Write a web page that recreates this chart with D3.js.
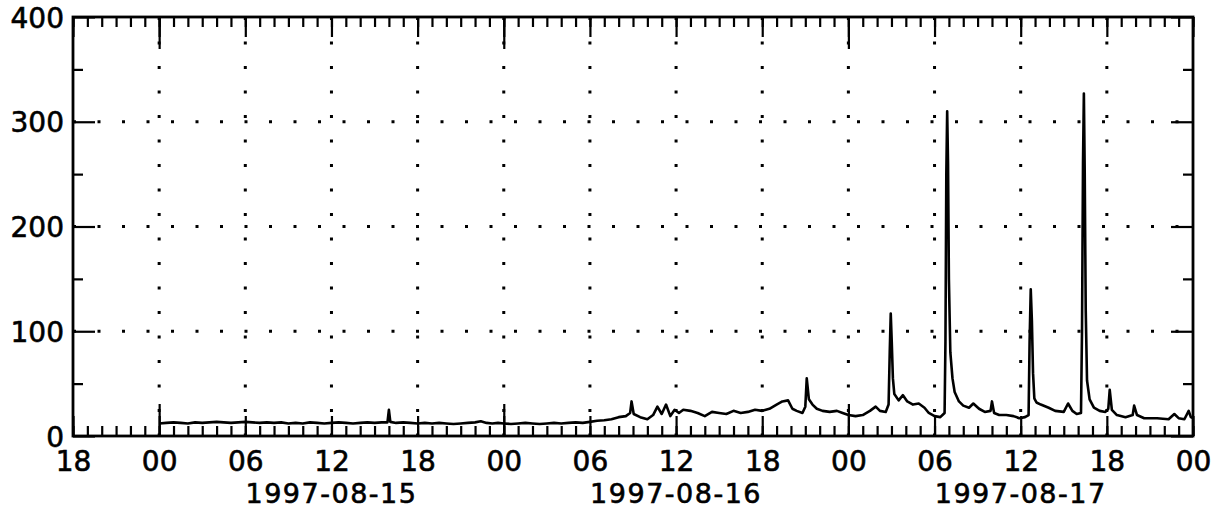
<!DOCTYPE html>
<html><head><meta charset="utf-8">
<script src="https://cdn.jsdelivr.net/npm/d3@7"></script>
<style>
html,body{margin:0;padding:0;background:#fff;}
svg{display:block;}
text{font-family:"DejaVu Sans",sans-serif;fill:#000;stroke:#000;stroke-width:0.6px;}
</style></head>
<body><svg id="c" width="1221" height="515"></svg>
<script>
// Data: hours since 1997-08-15 00:00 UTC, and values
const hours = [0,0.5,1,1.5,2,2.5,3,3.5,4,4.5,5,5.5,6,6.5,7,7.5,8,8.5,9,9.5,10,10.5,11,11.5,12,12.5,13,13.5,14,14.5,15,15.5,15.9,16.0,16.1,16.5,17,17.5,18,18.5,19,19.5,20,20.5,21,21.5,22,22.4,22.8,23.2,23.6,24,24.5,25,25.5,26,26.5,27,27.5,28,28.5,29,29.5,30,30.5,31,31.5,32,32.5,32.8,32.9,33.05,33.5,34,34.4,34.7,35,35.3,35.6,35.9,36.2,36.5,37,37.5,38,38.5,39,39.5,40,40.5,41,41.5,42,42.5,43,43.4,43.8,44.1,44.4,44.8,45.0,45.1,45.25,45.5,45.8,46.2,46.7,47.2,47.6,48,48.5,49,49.5,49.9,50.2,50.6,50.8,50.88,50.95,51.02,51.1,51.2,51.5,51.8,52.1,52.5,52.9,53.3,53.6,54,54.4,54.7,54.76,54.82,54.88,54.94,55.0,55.1,55.25,55.4,55.7,56,56.4,56.7,57.1,57.5,57.9,58.0,58.15,58.5,59,59.5,59.9,60.3,60.55,60.62,60.7,60.78,60.86,60.95,61.1,61.4,61.95,62.4,63.0,63.3,63.6,63.9,64.2,64.27,64.34,64.4,64.46,64.53,64.62,64.8,65.1,65.5,65.9,66.1,66.2,66.35,66.7,67.3,67.8,67.9,68.1,68.6,69.5,70.3,70.7,71,71.4,71.7,71.85,72];
const values = [12,12.5,13,12.5,12,13,12.5,13,13.5,13,12.5,13,13.5,13,12.5,13,12.5,13,12,12.5,12,13,12.5,12,12.5,13,12.5,12,12.5,13,12.5,13,13,25,13.5,12.5,13,12.5,12,12.5,12,12.5,12,11.5,12,12.5,13,14,12.5,12,12.5,12,11.5,12,12.5,12,11.5,12,12.5,12,12.5,13,12.5,13.5,14.5,15,16,18,19,22,33,21,18,16,20,28,21,30,19,25,22,25,24,22,19,23,22,21,24,22,23,25,24,26,30,33,34,26,24,22,28,55,35,30,26,24,23,24,22,20,19,20,24,28,24,23,30,80,117,90,55,40,34,39,33,30,31,27,22,19,18,22,90,250,310,260,150,80,55,42,33,29,27,31,26,23,24,33,22,20,20,19,17,18,20,90,140,110,60,36,32,30,27,24,23,31,24,21,22,100,260,327,250,120,53,35,27,24,23,26,44,25,20,18,20,29,20,17,17,16,21,17,16,24,18,17];
const hourTickLabels = ["18","00","06","12","18","00","06","12","18","00","06","12","18","00"];
const dateLabels = ["1997-08-15","1997-08-16","1997-08-17"];
const yTicks = [0,100,200,300,400];
const yMinorTicks = [50,150,250,350];

const svg = d3.select("#c");
const L = 73, R = 1193, T = 17, B = 436;
const t0 = Date.UTC(1997,7,14,18);
const tEnd = Date.UTC(1997,7,18,0);
const base = Date.UTC(1997,7,15,0);
const H = 3600e3;
const x = d3.scaleUtc().domain([new Date(t0), new Date(tEnd)]).range([L, R]);
const y = d3.scaleLinear().domain([0,400]).range([B, T]);

const hourly = d3.range(0, 79).map(h => new Date(t0 + h*H));
const six = d3.range(0, 14).map(i => new Date(t0 + i*6*H));
const days = [1,2,3].map(i => new Date(base + (i-1)*24*H));
const sixInner = six.filter((d,i) => i>0 && i<13);

// grid
const grid = svg.append("g").attr("stroke","#000").attr("stroke-width",3).attr("stroke-dasharray","3 21.5");
grid.selectAll("line.v").data(sixInner).join("line")
  .attr("x1", d=>x(d)).attr("x2", d=>x(d)).attr("y1", T).attr("y2", B);
grid.selectAll("line.h").data([100,200,300]).join("line")
  .attr("x1", L).attr("x2", R).attr("y1", d=>y(d)).attr("y2", d=>y(d));

function styleAxis(g){
  g.select(".domain").remove();
  g.selectAll(".tick line").attr("stroke","#000").attr("stroke-width",2.2);
  g.selectAll(".tick text").remove();
}
[[hourly,10],[six,20],[days,32]].forEach(([vals,len])=>{
  svg.append("g").attr("transform",`translate(0,${B})`)
    .call(d3.axisBottom(x).tickValues(vals).tickSize(-len).tickFormat(""))
    .call(styleAxis);
  svg.append("g").attr("transform",`translate(0,${T})`)
    .call(d3.axisTop(x).tickValues(vals).tickSize(-len).tickFormat(""))
    .call(styleAxis);
});
[[yMinorTicks,10],[yTicks,22]].forEach(([vals,len])=>{
  svg.append("g").attr("transform",`translate(${L},0)`)
    .call(d3.axisLeft(y).tickValues(vals).tickSize(-len).tickFormat(""))
    .call(styleAxis);
  svg.append("g").attr("transform",`translate(${R},0)`)
    .call(d3.axisRight(y).tickValues(vals).tickSize(-len).tickFormat(""))
    .call(styleAxis);
});

svg.append("rect").attr("x",L).attr("y",T).attr("width",R-L).attr("height",B-T)
  .attr("fill","none").attr("stroke","#000").attr("stroke-width",2.8);

const yl = svg.append("g").attr("transform",`translate(${L},0)`)
  .call(d3.axisLeft(y).tickValues(yTicks).tickSize(0).tickPadding(9).tickFormat(d3.format("d")));
yl.select(".domain").remove();
yl.selectAll("text").attr("font-size",28).attr("font-family","DejaVu Sans").attr("fill","#000").attr("dy","0.36em");

const xl = svg.append("g").attr("transform",`translate(0,${B})`)
  .call(d3.axisBottom(x).tickValues(six).tickSize(0).tickPadding(15).tickFormat((d,i)=>hourTickLabels[i]));
xl.select(".domain").remove();
xl.selectAll("text").attr("font-size",28).attr("font-family","DejaVu Sans").attr("fill","#000");

svg.append("g").selectAll("text").data(dateLabels).join("text")
  .attr("x",(d,i)=>x(new Date(base + i*24*H + 12*H)))
  .attr("y",503).attr("text-anchor","middle").attr("font-size",27)
  .attr("letter-spacing","1.5px")
  .text(d=>d);

const pts = hours.map((h,i)=>[new Date(base + h*H), values[i]]);
svg.append("path").datum(pts)
  .attr("fill","none").attr("stroke","#000").attr("stroke-width",2.6).attr("stroke-linejoin","round")
  .attr("d", d3.line().x(d=>x(d[0])).y(d=>y(d[1])));
</script></body></html>
